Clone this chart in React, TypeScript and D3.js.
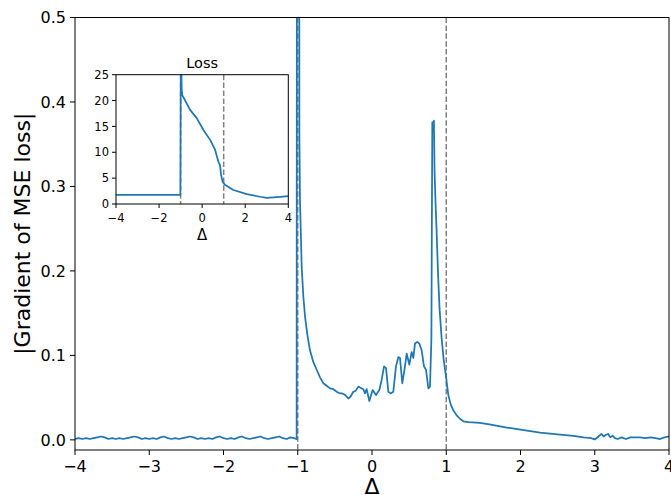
import React from "react";
import * as d3 from "d3";

const W = 671;
const H = 495;

// Main chart: |gradient of MSE loss| vs Δ
const gradPoints: [number, number][] = [
  [-4.0, 0.001], [-3.95, 0.002], [-3.9, 0.001], [-3.85, 0.002], [-3.8, 0.001], [-3.75, 0.002], [-3.7, 0.003], [-3.65, 0.004],
  [-3.6, 0.003], [-3.55, 0.001], [-3.5, 0.002], [-3.45, 0.001], [-3.4, 0.002], [-3.35, 0.001], [-3.3, 0.002], [-3.25, 0.003],
  [-3.2, 0.004], [-3.15, 0.003], [-3.1, 0.001], [-3.05, 0.002], [-3.0, 0.001], [-2.95, 0.002], [-2.9, 0.001], [-2.85, 0.003],
  [-2.8, 0.004], [-2.75, 0.002], [-2.7, 0.001], [-2.65, 0.002], [-2.6, 0.001], [-2.55, 0.002], [-2.5, 0.003], [-2.45, 0.004],
  [-2.4, 0.003], [-2.35, 0.001], [-2.3, 0.002], [-2.25, 0.001], [-2.2, 0.002], [-2.15, 0.001], [-2.1, 0.003], [-2.05, 0.004],
  [-2.0, 0.002], [-1.95, 0.001], [-1.9, 0.002], [-1.85, 0.001], [-1.8, 0.003], [-1.75, 0.004], [-1.7, 0.002], [-1.65, 0.001],
  [-1.6, 0.002], [-1.55, 0.003], [-1.5, 0.004], [-1.45, 0.002], [-1.4, 0.001], [-1.35, 0.002], [-1.3, 0.003], [-1.25, 0.004],
  [-1.2, 0.002], [-1.15, 0.001], [-1.1, 0.003], [-1.05, 0.002], [-1.02, 0.001], [-1.015, 0.001],
  [-1.01, 0.9], [-0.983, 0.9], [-0.978, 0.36], [-0.97, 0.284], [-0.947, 0.205], [-0.925, 0.17], [-0.902, 0.146],
  [-0.87, 0.124], [-0.835, 0.106], [-0.79, 0.092], [-0.745, 0.083], [-0.7, 0.074], [-0.655, 0.067], [-0.61, 0.064],
  [-0.566, 0.061], [-0.52, 0.06], [-0.475, 0.057], [-0.431, 0.055], [-0.4, 0.055], [-0.36, 0.053], [-0.319, 0.049],
  [-0.29, 0.051], [-0.252, 0.057], [-0.22, 0.058], [-0.184, 0.063], [-0.162, 0.062], [-0.117, 0.06], [-0.094, 0.055],
  [-0.072, 0.06], [-0.036, 0.046], [0.009, 0.059], [0.054, 0.053], [0.099, 0.059], [0.13, 0.071], [0.162, 0.087],
  [0.189, 0.085], [0.22, 0.057], [0.251, 0.055], [0.287, 0.057], [0.323, 0.087], [0.355, 0.098], [0.377, 0.097],
  [0.408, 0.067], [0.444, 0.087], [0.467, 0.102], [0.503, 0.089], [0.534, 0.104], [0.557, 0.097], [0.579, 0.114],
  [0.61, 0.116], [0.637, 0.114], [0.669, 0.106], [0.7, 0.087], [0.727, 0.083], [0.759, 0.061], [0.781, 0.063],
  [0.8, 0.12], [0.812, 0.376], [0.822, 0.365], [0.834, 0.378], [0.842, 0.32], [0.856, 0.28], [0.871, 0.245],
  [0.89, 0.195], [0.91, 0.155], [0.938, 0.12], [0.965, 0.095], [0.997, 0.075], [1.028, 0.053], [1.06, 0.042],
  [1.095, 0.035], [1.14, 0.029], [1.185, 0.025], [1.23, 0.022], [1.3, 0.021], [1.455, 0.02], [1.6, 0.018],
  [1.814, 0.0146], [2.0, 0.012], [2.263, 0.0087], [2.5, 0.0065], [2.711, 0.0047], [2.85, 0.003], [2.95, 0.002],
  [3.0, 0.0005], [3.05, 0.004], [3.09, 0.007], [3.12, 0.004], [3.15, 0.006], [3.18, 0.007], [3.21, 0.003],
  [3.24, 0.005], [3.27, 0.002], [3.31, 0.001], [3.36, 0.003], [3.42, 0.001], [3.48, 0.003], [3.55, 0.003],
  [3.61, 0.003], [3.68, 0.002], [3.75, 0.003], [3.82, 0.002], [3.88, 0.001], [3.94, 0.003], [4.0, 0.004],
];

// Inset: loss vs Δ
const lossPoints: [number, number][] = [
  [-4.0, 1.75], [-1.01, 1.75], [-0.99, 30], [-0.96, 25], [-0.95, 22.1], [-0.92, 21.0], [-0.8, 20.1],
  [-0.56, 18.2], [-0.25, 16.6], [0.06, 14.3], [0.37, 12.4], [0.6, 10.5], [0.75, 8.2], [0.83, 7.5],
  [0.88, 5.6], [0.95, 4.3], [1.06, 3.7], [1.45, 2.7], [2.07, 1.9], [2.69, 1.4], [3.0, 1.2], [3.62, 1.4], [4.0, 1.5],
];

const xTicks = [-4, -3, -2, -1, 0, 1, 2, 3, 4];
const yTicks = [0.0, 0.1, 0.2, 0.3, 0.4, 0.5];
const insetXTicks = [-4, -2, 0, 2, 4];
const insetYTicks = [0, 5, 10, 15, 20, 25];
const dashedAt = [-1, 1];

const BLUE = "#1f77b4";
const GREY = "#808080";
const FONT = "DejaVu Sans, sans-serif";

const fmtInt = (v: number) => (v < 0 ? "\u2212" + Math.abs(v) : String(v));

export default function App() {
  const m = { left: 75, right: 669, top: 17.5, bottom: 450 };
  const x = d3.scaleLinear().domain([-4, 4]).range([m.left, m.right]);
  const y = d3.scaleLinear().domain([-0.012, 0.5]).range([m.bottom, m.top]);
  const line = d3.line<[number, number]>().x((d) => x(d[0])).y((d) => y(d[1]));

  const ins = { left: 116, right: 288.3, top: 74.7, bottom: 204 };
  const ix = d3.scaleLinear().domain([-4, 4]).range([ins.left, ins.right]);
  const iy = d3.scaleLinear().domain([0, 25]).range([ins.bottom, ins.top]);
  const iline = d3.line<[number, number]>().x((d) => ix(d[0])).y((d) => iy(d[1]));

  return (
    <svg width={W} height={H} style={{ position: "absolute", left: 0, top: 0, background: "#fff" }} fontFamily={FONT}>
      <defs>
        <clipPath id="mainClip">
          <rect x={m.left} y={m.top} width={m.right - m.left} height={m.bottom - m.top} />
        </clipPath>
        <clipPath id="insetClip">
          <rect x={ins.left} y={ins.top} width={ins.right - ins.left} height={ins.bottom - ins.top} />
        </clipPath>
      </defs>
      <rect x={0} y={0} width={W} height={H} fill="#fff" />

      {/* main dashed lines */}
      {dashedAt.map((d) => (
        <line key={"md" + d} x1={x(d)} x2={x(d)} y1={m.top} y2={m.bottom} stroke={GREY} strokeWidth={1.5} strokeDasharray="5.5,2.4" />
      ))}
      <path d={line(gradPoints) || ""} fill="none" stroke={BLUE} strokeWidth={1.75} clipPath="url(#mainClip)" strokeLinejoin="round" />

      {/* main spines */}
      <rect x={m.left} y={m.top} width={m.right - m.left} height={m.bottom - m.top} fill="none" stroke="#000" strokeWidth={1} />

      {/* main ticks */}
      {xTicks.map((t) => (
        <g key={"xt" + t}>
          <line x1={x(t)} x2={x(t)} y1={m.bottom} y2={m.bottom + 5} stroke="#000" strokeWidth={1} />
          <text x={x(t)} y={m.bottom + 22} fontSize={16} textAnchor="middle" fill="#000">{fmtInt(t)}</text>
        </g>
      ))}
      {yTicks.map((t) => (
        <g key={"yt" + t}>
          <line x1={m.left - 5} x2={m.left} y1={y(t)} y2={y(t)} stroke="#000" strokeWidth={1} />
          <text x={m.left - 9} y={y(t)} dy="0.36em" fontSize={16} textAnchor="end" fill="#000">{t.toFixed(1)}</text>
        </g>
      ))}
      <text x={(m.left + m.right) / 2} y={494} fontSize={22} textAnchor="middle" fill="#000">Δ</text>
      <text transform={`translate(30,${(m.top + m.bottom) / 2}) rotate(-90)`} fontSize={22} textAnchor="middle" fill="#000">|Gradient of MSE loss|</text>

      {/* inset */}
      <rect x={ins.left} y={ins.top} width={ins.right - ins.left} height={ins.bottom - ins.top} fill="#fff" />
      {dashedAt.map((d) => (
        <line key={"id" + d} x1={ix(d)} x2={ix(d)} y1={ins.top} y2={ins.bottom} stroke={GREY} strokeWidth={1.5} strokeDasharray="5.5,2.4" />
      ))}
      <path d={iline(lossPoints) || ""} fill="none" stroke={BLUE} strokeWidth={1.75} clipPath="url(#insetClip)" strokeLinejoin="round" />
      <rect x={ins.left} y={ins.top} width={ins.right - ins.left} height={ins.bottom - ins.top} fill="none" stroke="#000" strokeWidth={1} />
      {insetXTicks.map((t) => (
        <g key={"ixt" + t}>
          <line x1={ix(t)} x2={ix(t)} y1={ins.bottom} y2={ins.bottom + 4} stroke="#000" strokeWidth={1} />
          <text x={ix(t)} y={ins.bottom + 18} fontSize={11.5} textAnchor="middle" fill="#000">{fmtInt(t)}</text>
        </g>
      ))}
      {insetYTicks.map((t) => (
        <g key={"iyt" + t}>
          <line x1={ins.left - 4} x2={ins.left} y1={iy(t)} y2={iy(t)} stroke="#000" strokeWidth={1} />
          <text x={ins.left - 7} y={iy(t)} dy="0.36em" fontSize={11.5} textAnchor="end" fill="#000">{t}</text>
        </g>
      ))}
      <text x={(ins.left + ins.right) / 2} y={240} fontSize={15} textAnchor="middle" fill="#000">Δ</text>
      <text x={(ins.left + ins.right) / 2} y={68} fontSize={14.5} textAnchor="middle" fill="#000">Loss</text>
    </svg>
  );
}
